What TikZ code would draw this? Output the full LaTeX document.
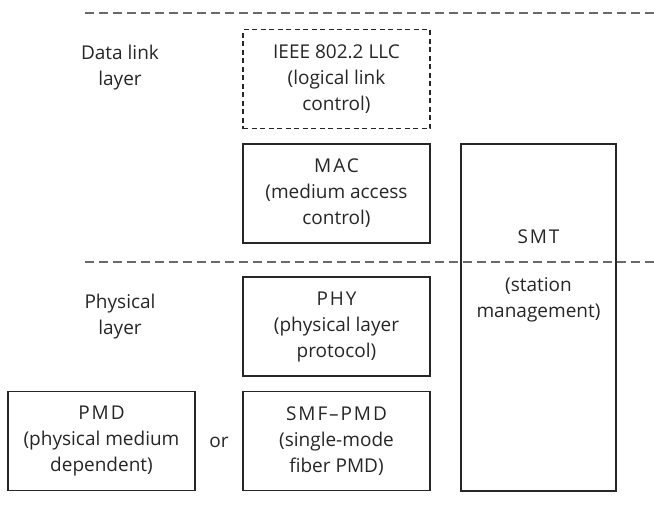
\documentclass[tikz,border=0pt]{standalone}
\usepackage{fontspec}
\setmainfont{Open Sans}
\usepackage{xcolor}
\usetikzlibrary{positioning}
\definecolor{inkgray}{HTML}{262626}
\definecolor{rulegray}{HTML}{6A6A6A}
\newcommand{\capsp}[1]{{\addfontfeatures{LetterSpace=10}#1}}

\begin{document}
\begin{tikzpicture}[x=1pt,y=-1pt,font=\fontsize{19}{26}\selectfont,
   layerbox/.style={draw=inkgray,line width=1.1pt,minimum width=187pt,minimum height=99pt,
     align=center,text=inkgray,inner sep=0pt},
   optbox/.style={layerbox,dash pattern=on 5pt off 3.5pt},
   layertext/.style={align=center,text=inkgray},
   divider/.style={draw=rulegray,line width=1.3pt,dash pattern=on 9pt off 5pt}]
  \useasboundingbox (0,0) rectangle (654,506);
  % layer boundaries, run from the label column to the right edge
  \coordinate (topL) at (85,13);   \coordinate (topR) at (654,13);
  \coordinate (midL) at (85,262);  \coordinate (midR) at (654,262);
  % station management spans both layers; the divider crosses it
  \node[layerbox,minimum width=155pt,minimum height=347pt] (smt) at (538.5,317.5) {};
  \draw[divider] (topL) -- (topR);
  \draw[divider] (midL) -- (midR);
  \node[layertext] (smtT) at (538.5,276) {\capsp{SMT}\\[22pt](station\\management)};
  % layer names
  \node[layertext] (dll) at (120,68) {Data link\\layer};
  \node[layertext] (phl) at (120,317) {Physical\\layer};
  % protocol stack
  \node[optbox] (llc) at (336.5,79) {IEEE 802.2 LLC\\(logical link\\control)};
  \node[layerbox] (mac) at (336.5,193.5) {\capsp{MAC}\\(medium access\\control)};
  \node[layerbox] (phy) at (336.5,326.5) {\capsp{PHY}\\(physical layer\\protocol)};
  \node[layerbox] (smf) at (336.5,441) {\capsp{SMF--PMD}\\(single-mode\\fiber PMD)};
  \node[layerbox] (pmd) at (101.5,441) {\capsp{PMD}\\(physical medium\\dependent)};
  \node[layertext] (or) at (219,442) {or};
\end{tikzpicture}
\end{document}
